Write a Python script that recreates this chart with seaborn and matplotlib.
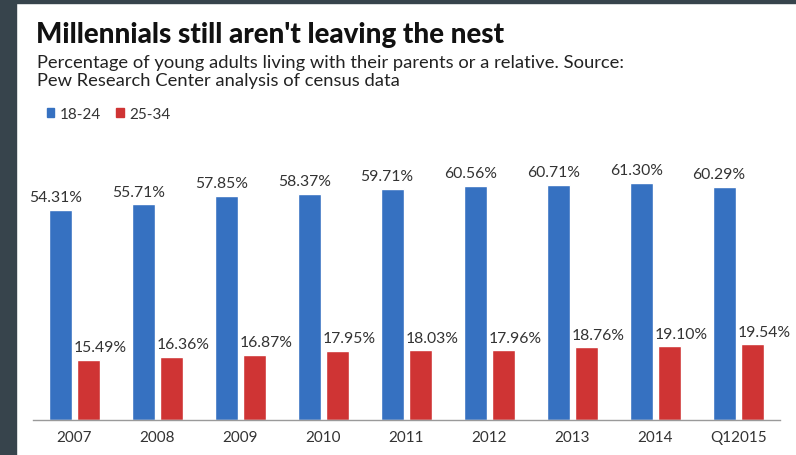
import matplotlib
matplotlib.use("Agg")
import matplotlib.pyplot as plt
import matplotlib.patches as mpatches
import seaborn as sns
import pandas as pd

years = ["2007", "2008", "2009", "2010", "2011", "2012", "2013", "2014", "Q12015"]
age_18_24 = [54.31, 55.71, 57.85, 58.37, 59.71, 60.56, 60.71, 61.30, 60.29]
age_25_34 = [15.49, 16.36, 16.87, 17.95, 18.03, 17.96, 18.76, 19.10, 19.54]
groups = ["18-24", "25-34"]
colors = ["#3671c1", "#cf3434"]

df = pd.DataFrame({
    "year": years * 2,
    "value": age_18_24 + age_25_34,
    "group": [groups[0]] * len(years) + [groups[1]] * len(years),
})

sns.set_theme(style="white")
plt.rcParams["font.family"] = ["Lato", "DejaVu Sans"]

W, H = 796, 456
fig = plt.figure(figsize=(W / 100, H / 100), dpi=100)
fig.patch.set_facecolor("white")

BAR_WIDTH = 0.663
ax = fig.add_axes([33 / W, (H - 421) / H, (780 - 33) / W, (421 - 150) / H])
sns.barplot(data=df, x="year", y="value", hue="group", order=years,
            hue_order=groups, palette=colors, width=BAR_WIDTH, gap=0.16,
            ax=ax, legend=False, saturation=1)

ax.set_ylim(0, 70)
ax.set_xlim(-0.5, len(years) - 0.5)
ax.set_xlabel("")
ax.set_ylabel("")
ax.set_yticks([])
for s in ["left", "right", "top"]:
    ax.spines[s].set_visible(False)
ax.spines["bottom"].set_color("#9a9a9a")
ax.spines["bottom"].set_linewidth(1.0)
ax.tick_params(axis="x", length=0, pad=7, labelsize=11, labelcolor="#333333")

# value labels: blue slightly left of its bar, red shifted right (as in source)
series = [age_18_24, age_25_34]
dodge = [-BAR_WIDTH / 4, BAR_WIDTH / 4]
offsets = [-4, 8.5]
for vals, dd, dx in zip(series, dodge, offsets):
    for i, v in enumerate(vals):
        ax.annotate(f"{v:.2f}%", (i + dd, v),
                    xytext=(dx, 4), textcoords="offset points",
                    ha="center", va="bottom", fontsize=11.3, color="#333333")

# Title and subtitle
fig.text(36 / W, 1 - 35 / H, "Millennials still aren't leaving the nest",
         fontsize=20, fontweight="black", color="#111111", va="center", ha="left")
fig.text(37 / W, 1 - 72 / H,
         "Percentage of young adults living with their parents or a relative. Source:\nPew Research Center analysis of census data",
         fontsize=13.2, color="#222222", va="center", ha="left", linespacing=1.15)

handles = [mpatches.Patch(color=c, label=g) for c, g in zip(colors, groups)]
fig.legend(handles=handles, loc="center left", bbox_to_anchor=(33 / W, 1 - 115 / H),
           ncol=2, frameon=False, handlelength=0.5, handleheight=0.5,
           handletextpad=0.35, columnspacing=1.0, fontsize=11, labelcolor="#333333")

# dark frame edges
fig.patches.append(mpatches.Rectangle((0, 0), 16 / W, 1, transform=fig.transFigure,
                                      color="#37444c", zorder=0))
fig.patches.append(mpatches.Rectangle((0, 1 - 4 / H), 1, 4 / H, transform=fig.transFigure,
                                      color="#37444c", zorder=0))

fig.savefig("out.png", dpi=100)
